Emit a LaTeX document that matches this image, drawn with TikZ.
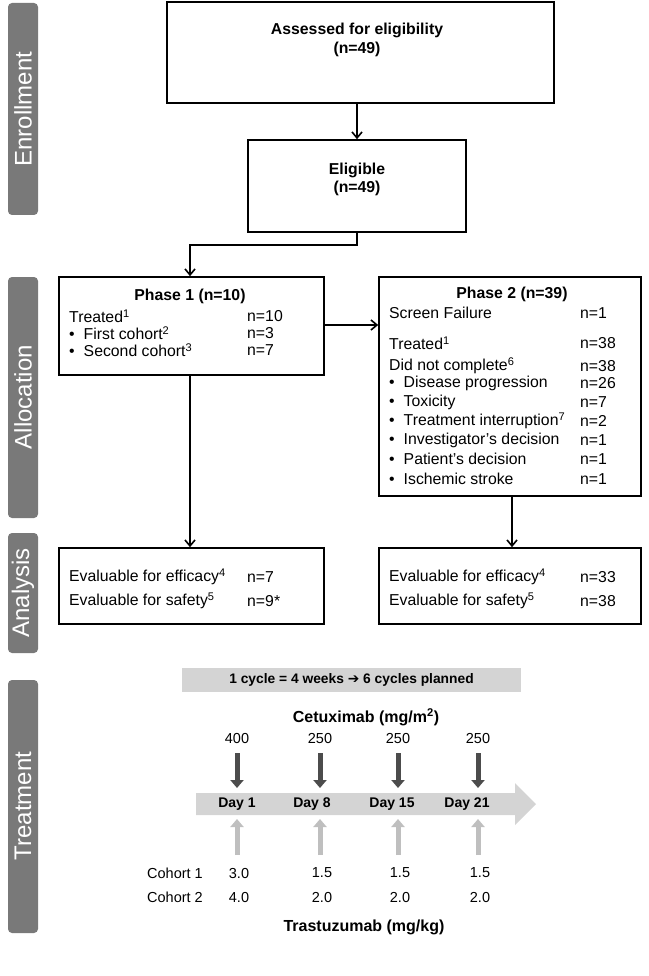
\documentclass[tikz,border=0pt]{standalone}
\usepackage{fontspec}
\setmainfont{Liberation Sans}
\usetikzlibrary{arrows.meta}
\begin{document}
\begin{tikzpicture}[x=1pt,y=-1pt,
  tab/.style={fill=gray!95!black,rounded corners=4pt},
  tabt/.style={text=white,rotate=90,font=\fontsize{24}{26}\selectfont},
  box/.style={draw,line width=1.6pt},
  t/.style={anchor=west,inner sep=0,font=\fontsize{15.8}{17}\selectfont},
  tb/.style={inner sep=0,font=\bfseries\fontsize{15.8}{17}\selectfont},
  ar/.style={line width=1.6pt,-{Straight Barb[length=6pt,width=10pt]}},
  dk/.style={line width=5pt,draw=black!70,-{Triangle[length=8pt,width=13pt]}},
  lt/.style={line width=5pt,draw=black!25,-{Triangle[length=8pt,width=13pt]}},
  sm/.style={inner sep=0,font=\fontsize{14.5}{16}\selectfont}]
\useasboundingbox (0,0) rectangle (648,976);
% tabs
\fill[tab] (8,3) rectangle (38,215); \node[tabt] (te) at (23,109) {Enrollment};
\fill[tab] (8,277) rectangle (38,518); \node[tabt] (ta) at (23,397) {Allocation};
\fill[tab] (8,533) rectangle (38,653); \node[tabt] (tn) at (23,593) {Analysis};
\fill[tab] (8,680) rectangle (38,933); \node[tabt] (tt) at (23,806) {Treatment};
% enrollment
\node[box,minimum width=387,minimum height=101,inner sep=0] (b1) at (360.5,52.5) {};
\node[tb] (b1a) at (357,30) {Assessed for eligibility};
\node[tb] (b1b) at (357,49) {(n=49)};
\node[box,minimum width=218,minimum height=92,inner sep=0] (b2) at (357,186) {};
\node[tb] (b2a) at (357,170) {Eligible};
\node[tb] (b2b) at (357,188) {(n=49)};
\draw[ar] (b1.south -| b2.north) -- (b2.north);
% allocation
\node[box,minimum width=265,minimum height=98,inner sep=0] (p1) at (191.5,326) {};
\node[box,minimum width=262,minimum height=219,inner sep=0] (p2) at (510,386.5) {};
\coordinate (c1) at (357,245);
\coordinate (c2) at (190,245);
\draw[ar] (b2.south) -- (c1) -- (c2) -- (c2 |- p1.north);
\draw[ar] (p1.east |- 0,325) -- (p2.west |- 0,325);
\node[tb] (p1t) at (190,296) {Phase 1 (n=10)};
\node[t] (p1a) at (69,316) {Treated\textsuperscript{1}};
\node[t] (p1b) at (69,333) {•\hspace{9pt}First cohort\textsuperscript{2}};
\node[t] (p1c) at (69,350) {•\hspace{9pt}Second cohort\textsuperscript{3}};
\node[t] (p1an) at (247,316) {n=10};
\node[t] (p1bn) at (247,333) {n=3};
\node[t] (p1cn) at (247,350) {n=7};
\node[tb] (p2t) at (512,294) {Phase 2 (n=39)};
\foreach \y/\l/\n/\k in {313/Screen Failure/n=1/a, 343/Treated\textsuperscript{1}/n=38/b, 366/Did not complete\textsuperscript{6}/n=38/c}
  {\node[t] (p2\k) at (389,\y) {\l}; \node[t] (p2\k n) at (580,\y) {\n};}
\foreach \y/\l/\n/\k in {383/Disease progression/n=26/d, 402/Toxicity/n=7/e, 421/Treatment interruption\textsuperscript{7}/n=2/f, 440/Investigator’s decision/n=1/g, 459/Patient’s decision/n=1/h, 479/Ischemic stroke/n=1/i}
  {\node[t] (p2\k) at (389,\y) {•\hspace{9pt}\l}; \node[t] (p2\k n) at (580,\y) {\n};}
% analysis
\node[box,minimum width=265,minimum height=76,inner sep=0] (a1) at (191.5,586) {};
\node[box,minimum width=262,minimum height=76,inner sep=0] (a2) at (510,586) {};
\draw[ar] (p1.south -| 190,0) -- (a1.north -| 190,0);
\draw[ar] (p2.south -| 512,0) -- (a2.north -| 512,0);
\node[t] (a1a) at (69,577) {Evaluable for efficacy\textsuperscript{4}};
\node[t] (a1b) at (69,601) {Evaluable for safety\textsuperscript{5}};
\node[t] (a1an) at (247,577) {n=7};
\node[t] (a1bn) at (247,601) {n=9*};
\node[t] (a2a) at (389,577) {Evaluable for efficacy\textsuperscript{4}};
\node[t] (a2b) at (389,601) {Evaluable for safety\textsuperscript{5}};
\node[t] (a2an) at (580,577) {n=33};
\node[t] (a2bn) at (580,601) {n=38};
% treatment
\fill[black!17] (182,668) rectangle (521,692);
\node[inner sep=0,font=\bfseries\fontsize{13.8}{15}\selectfont] (cyc) at (351.5,680) {1 cycle = 4 weeks {\fontspec{DejaVu Sans}\bfseries ➔} 6 cycles planned};
\node[inner sep=0,font=\bfseries\fontsize{16}{17}\selectfont] (cet) at (366,717) {Cetuximab (mg/m\textsuperscript{2})};
\fill[black!17] (196,793) -- (515,793) -- (515,783) -- (536,804) -- (515,825) -- (515,815) -- (196,815) -- cycle;
\foreach \x/\d/\dx/\dl/\ca/\cb/\k in {237/400/237/Day 1/3.0/4.0/1, 320/250/312/Day 8/1.5/2.0/2, 398/250/392/Day 15/1.5/2.0/3, 478/250/467/Day 21/1.5/2.0/4}{
  \node[sm] (dose\k) at (\x,739) {\d};
  \coordinate (ds\k) at (\x,753); \coordinate (de\k) at (\x,788);
  \draw[dk] (ds\k) -- (de\k);
  \node[inner sep=0,font=\bfseries\fontsize{14}{15}\selectfont] (day\k) at (\dx,804) {\dl};
  \coordinate (ls\k) at (\x,855); \coordinate (le\k) at (\x,819);
  \draw[lt] (ls\k) -- (le\k);
  \node[sm] (ca\k) at (\x+2,873) {\ca};
  \node[sm] (cb\k) at (\x+2,897) {\cb};
}
\node[sm,anchor=west] (co1) at (147,873) {Cohort 1};
\node[sm,anchor=west] (co2) at (147,897) {Cohort 2};
\node[inner sep=0,font=\bfseries\fontsize{16}{17}\selectfont] (tra) at (364,927) {Trastuzumab (mg/kg)};
\end{tikzpicture}
\end{document}
